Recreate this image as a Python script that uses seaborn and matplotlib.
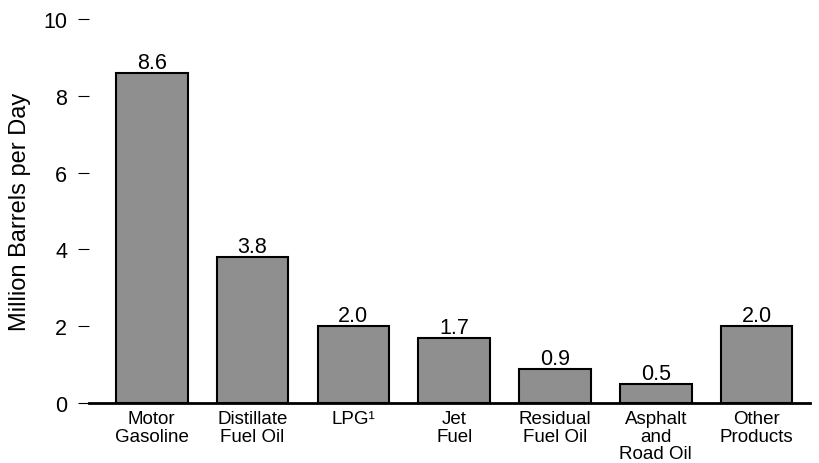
import matplotlib
matplotlib.use('Agg')
import matplotlib.pyplot as plt
import seaborn as sns

# 제품별 소비량 (백만 배럴/일)
categories = ['Motor\nGasoline', 'Distillate\nFuel Oil', 'LPG\u00b9', 'Jet\nFuel',
              'Residual\nFuel Oil', 'Asphalt\nand\nRoad Oil', 'Other\nProducts']
values = [8.6, 3.8, 2.0, 1.7, 0.9, 0.5, 2.0]
yticks = [0, 2, 4, 6, 8, 10]

sns.set_style('white')
plt.rcParams['font.family'] = ['Liberation Sans', 'DejaVu Sans']
plt.rcParams['text.color'] = 'black'
plt.rcParams['axes.labelcolor'] = 'black'
plt.rcParams['xtick.color'] = 'black'
plt.rcParams['ytick.color'] = 'black'

fig = plt.figure(figsize=(8.19, 4.64), dpi=100)
ax = fig.add_axes([0.109, 0.129, 0.88, 0.828])

sns.barplot(x=categories, y=values, color='#8f8f8f', saturation=1,
            edgecolor='black', linewidth=1.5, width=0.71, ax=ax)

ax.bar_label(ax.containers[0], fmt='%.1f', fontsize=15.5, padding=0, color='black')

ax.set_ylim(0, 10)
ax.set_xlim(-0.62, 6.53)
ax.set_yticks(yticks)
ax.set_ylabel('Million Barrels per Day', fontsize=17, labelpad=9)

for s in ['left', 'top', 'right']:
    ax.spines[s].set_visible(False)
ax.spines['bottom'].set_linewidth(2)
ax.spines['bottom'].set_color('black')

ax.tick_params(axis='y', length=8, width=0.8, direction='out',
               pad=8, labelsize=15.5, left=True)
ax.tick_params(axis='x', length=0, pad=5, labelsize=13.5)
for lab in ax.get_xticklabels():
    lab.set_linespacing(1.05)

fig.savefig('out.png', dpi=100)
